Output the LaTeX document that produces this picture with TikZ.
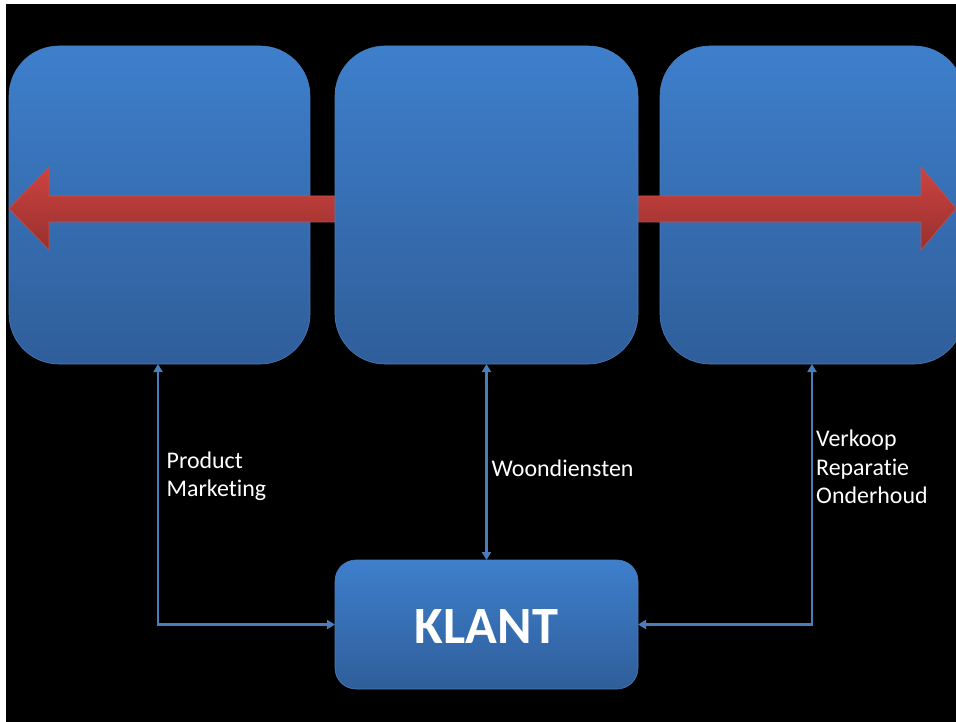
\documentclass[tikz,border=0pt]{standalone}
\usepackage{fontspec}
\setmainfont[Ligatures=NoCommon]{Carlito}
\usetikzlibrary{arrows.meta}
\definecolor{boxtop}{HTML}{3E7FCC}
\definecolor{boxbot}{HTML}{2F5E9A}
\definecolor{boxline}{HTML}{4A7EBB}
\definecolor{redtop}{HTML}{CD4340}
\definecolor{redbot}{HTML}{97302E}
\definecolor{redline}{HTML}{C0504D}
\definecolor{linkc}{HTML}{4A7EBB}
\tikzset{
  bigbox/.style={rectangle,draw=boxline,line width=0.6pt,top color=boxtop,bottom color=boxbot,rounded corners=50pt,minimum height=318pt,inner sep=0pt,outer sep=0pt},
  link/.style={draw=linkc,line width=2.6pt,{Triangle[length=8pt,width=9pt]}-{Triangle[length=8pt,width=9pt]}},
  lbl/.style={text=white,font=\fontsize{23.9}{28.5}\selectfont,align=left,anchor=west,inner sep=0pt}
}
\begin{document}
\begin{tikzpicture}[x=1pt,y=-1pt]
\useasboundingbox (0,0) rectangle (956,722);
\clip (0,0) rectangle (956,722);
\fill[white] (0,0) rectangle (956,722);
\fill[black] (6,4) rectangle (956,722);
\node[bigbox,minimum width=301pt] (left) at (159.5,205) {};
\node[bigbox,minimum width=304pt] (right) at (812,205) {};
\shade[top color=redtop,bottom color=redbot,draw=redline,line width=0.6pt]
  (9,208.5) -- (49,167) -- (49,196) -- (921,196) -- (921,167) -- (956,208.5)
  -- (921,250) -- (921,222) -- (49,222) -- (49,250) -- cycle;
\node[bigbox,minimum width=303pt] (mid) at (486.5,205) {};
\node[rectangle,draw=boxline,line width=0.6pt,top color=boxtop,bottom color=boxbot,rounded corners=21pt,minimum width=303pt,minimum height=129pt,inner sep=0pt,outer sep=0pt,text=white,text height=37.7pt,text depth=0pt,font=\bfseries\fontsize{52.4}{52.4}\selectfont] (klant) at (486.5,624.5) {KLANT};
\coordinate (leftfoot) at ([xshift=-1.5pt]left.south);
\draw[link] (leftfoot) |- (klant.west);
\draw[link] (mid.south) -- (klant.north);
\draw[link] (right.south) |- (klant.east);
\node[lbl] (t1) at (166.5,476.5) {Product\\Marketing};
\node[lbl] (t2) at (491.5,468) {Woondiensten};
\node[lbl] (t3) at (816,467) {Verkoop\\Reparatie\\Onderhoud};
\end{tikzpicture}
\end{document}
